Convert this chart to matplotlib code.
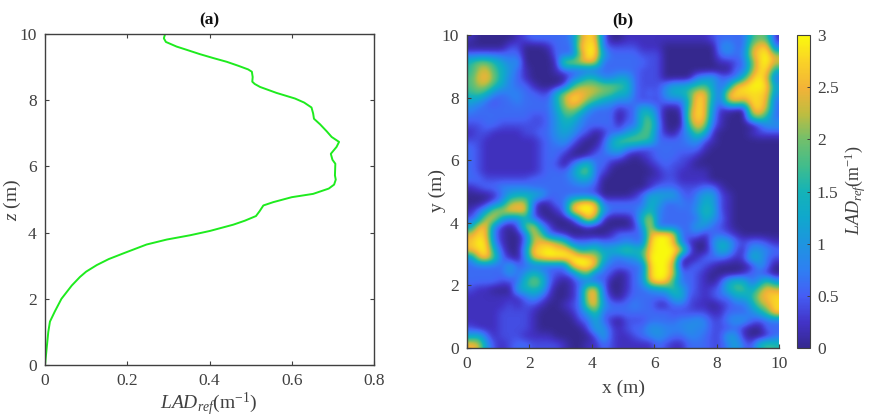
import numpy as np
import matplotlib
matplotlib.use('Agg')
import matplotlib.pyplot as plt
from matplotlib.colors import LinearSegmentedColormap

plt.rcParams['font.family'] = ['Liberation Serif', 'DejaVu Serif']
plt.rcParams['mathtext.fontset'] = 'custom'
plt.rcParams['mathtext.rm'] = 'Liberation Serif'
plt.rcParams['mathtext.it'] = 'Liberation Serif:italic'
plt.rcParams['mathtext.bf'] = 'Liberation Serif:bold'

TXT = '#404040'
W, H = 875, 418

# вертикальный профиль
lad_profile = [0.292, 0.289, 0.294, 0.32, 0.345, 0.377, 0.41, 0.442, 0.47, 0.494, 0.503, 0.505, 0.504, 0.51,
               0.523, 0.563, 0.608, 0.63, 0.648, 0.652, 0.654, 0.669, 0.685, 0.697, 0.715, 0.709, 0.695,
               0.699, 0.706, 0.705, 0.707, 0.703, 0.69, 0.652, 0.6, 0.555, 0.531, 0.522, 0.513, 0.486,
               0.458, 0.401, 0.353, 0.296, 0.247, 0.19, 0.155, 0.126, 0.1, 0.085, 0.065, 0.04, 0.024,
               0.012, 0.008, 0.004, 0.0]
z_profile = [10.0, 9.87, 9.76, 9.62, 9.52, 9.39, 9.27, 9.16, 9.04, 8.93, 8.86, 8.7, 8.56, 8.49,
             8.40, 8.22, 8.05, 7.93, 7.78, 7.6, 7.44, 7.27, 7.06, 6.89, 6.74, 6.59, 6.38,
             6.2, 6.08, 5.73, 5.6, 5.45, 5.33, 5.17, 5.07, 4.92, 4.82, 4.65, 4.5, 4.36,
             4.24, 4.05, 3.92, 3.79, 3.64, 3.37, 3.2, 3.02, 2.82, 2.66, 2.4, 2.0, 1.62,
             1.31, 1.0, 0.5, 0.0]

# карта LAD: один символ на ячейку 0.25 м, hex/5 = м^-1, строки сверху вниз
lad_rows = [
    '1000001 2333334 bed 3 00 11 111111111 233 33 8a9 1',
    '000002 2 000 1 333 def 3 22 22111 0000000 45 33 bde 3',
    '3333333 0000 333 afe 6 3333 222 0000000 34 34 cef b',
    '8aa8645 0000 1 bbcdc 3 33333 22 0000000 11 2 3 9 efc',
    '8bc9753 1 000 1 33333 33333 222 0000000 00 33 aee7',
    '9cda743 1000 00 358744663 222 0000 456 33 3 8dfc3',
    '9bb8643 3 10 00 2 8bbbaa98 3 222 46678963 5 deffe6',
    '8974344 3322 7 bddcba9 77 3232 577 9dd73 deeeed5',
    '6532334 3333 7 beda865 44 3222 333 8ed63 bdbeec3',
    '43333333 333 6ab95333 123763 001 aed5 1100 deb3',
    '33333333 223 58853333 023893 000 bed4 1000 9b73',
    '22332222 223 57643333 1338a4 000 9db3 1000 0255',
    '12211112 233 56532013 357993 103 5a71 00001222',
    '22111111 123 45310026 9aa983 333 4521 00000000',
    '32111111 123 33100136 743223 333 3310 00000000',
    '32111111 123 31001333 310123 332 2100 00000000',
    '32111111 123 20368331 000012 322 1000 00000000',
    '32111111 123 3359a320 000001 221 1110 00000000',
    '33222222 333 33466300 000011 221 1110 00000000',
    '12334444 333 33333200 000013 332 2233 10000000',
    '00013677 763 33333200 001366 663 2466 21000000',
    '00135bcc 301 33befd33 333376 334 3476 21000000',
    '136bcddd 200 13dffe63 333584 333 3587 21000000',
    '25cc6447 310 0017ea10 0028c4 333 3375 31000000',
    '6dd4102a d52 00001000 0015d3 333 3653 21000000',
    'ced31003 ca3 21000001 3333cf fd3 3313 32100000',
    'dfe41003 bdd b9333433 3433ef fd4 1004 76323321',
    'def72005 eef eec78967 8a88ef ffd 3003 76215543',
    '4ce93104 cef ffffec84 3458ff fe1 0133 32127632',
    '33333633 333 33dffd43 3333ef fb0 2321 00001530',
    '33333535 863 2238a332 0134ef fc3 3210 00013310',
    '33332238 a93 10133330 0134df e83 3210 26873595',
    '21100067 872 0013cd30 013345 696 3212 37996adc',
    '11111113 531 0013cd41 023333 367 2212 33668cde',
    '11111212 210 0123bd53 334331 133 2110 12336ace',
    '11112222 100 00135933 333333 322 2221 1333469e',
    '11112222 100 00023631 022233 334 4542 24553233',
    '21112222 100 00002652 123355 444 5442 22310033',
    '67312221 111 00000262 112345 433 4432 26510013',
    'dc521233 222 21001132 111113 211 3332 24632798',
]
lad_map = np.array([[int(c, 16) / 5 for c in r.replace(' ', '')] for r in lad_rows])

x_ticks = [0, 2, 4, 6, 8, 10]
lad_ticks = [0, 0.2, 0.4, 0.6, 0.8]
cb_ticks = [0, 0.5, 1, 1.5, 2, 2.5, 3]
cb_labels = ['0', '0.5', '1', '1.5', '2', '2.5', '3']

parula = LinearSegmentedColormap.from_list('parula', [
    (0.0, (.21, .16, .56)), (.08, (.26, .20, .78)), (.167, (.27, .37, .96)), (.25, (.18, .50, .95)),
    (.33, (.12, .58, .88)), (.42, (.06, .66, .80)), (.5, (.08, .70, .72)), (.58, (.25, .74, .55)),
    (.667, (.45, .75, .42)), (.75, (.75, .74, .25)), (.83, (.95, .70, .22)), (.92, (.98, .83, .15)),
    (1.0, (.98, .98, .05))])


def px_axes(fig, left, top, right, bottom):
    return fig.add_axes([left / W, 1 - bottom / H, (right - left) / W, (bottom - top) / H])


def style_axes(ax):
    for s in ax.spines.values():
        s.set_color(TXT)
        s.set_linewidth(1.0)
    ax.tick_params(direction='in', length=3, width=0.8, color=TXT, labelcolor=TXT, labelsize=12.5, pad=6)


fig = plt.figure(figsize=(W / 100, H / 100), dpi=100)

# (a) профиль
ax1 = px_axes(fig, 45, 34, 374, 365)
ax1.plot(lad_profile, z_profile, color='#1EEB1E', lw=1.4)
ax1.set_xlim(0, 0.8)
ax1.set_ylim(0, 10)
ax1.set_xticks(lad_ticks)
ax1.set_xticklabels(['0', '0.2', '0.4', '0.6', '0.8'])
ax1.set_yticks(x_ticks)
style_axes(ax1)
ax1.tick_params(top=True, right=True)
fig.text(209 / W, 1 - 20 / H, '(a)', ha='center', va='center', fontsize=12.5, fontweight='bold', color='#111111')
fig.text(209 / W, 1 - 404 / H, r'$\mathit{LAD}_{\mathit{ref}}$(m$^{-1}$)', ha='center', va='center',
         fontsize=14, color=TXT)
fig.text(12 / W, 1 - 200 / H, r'$\mathit{z}$ (m)', ha='center', va='center', rotation=90, fontsize=14, color=TXT)

# (b) карта
ax2 = px_axes(fig, 467, 35, 779, 348)
im = ax2.imshow(lad_map, extent=[0, 10, 0, 10], origin='upper', cmap=parula, vmin=0, vmax=3,
                interpolation='bicubic', aspect='auto')
ax2.set_xticks(x_ticks)
ax2.set_yticks(x_ticks)
style_axes(ax2)
ax2.spines['top'].set_visible(False)
ax2.spines['right'].set_visible(False)
fig.text(623 / W, 1 - 20 / H, '(b)', ha='center', va='center', fontsize=12.5, fontweight='bold', color='#111111')
fig.text(623 / W, 1 - 388 / H, 'x (m)', ha='center', va='center', fontsize=14, color=TXT)
fig.text(437 / W, 1 - 191 / H, 'y (m)', ha='center', va='center', rotation=90, fontsize=14, color=TXT)

# цветовая шкала
cax = px_axes(fig, 797, 35, 810, 348)
cb = fig.colorbar(im, cax=cax, ticks=cb_ticks)
cb.ax.set_yticklabels(cb_labels)
cb.outline.set_edgecolor(TXT)
cb.outline.set_linewidth(0.8)
cb.ax.tick_params(direction='in', length=2, width=0.7, color=TXT, labelcolor=TXT, labelsize=12.5, pad=5)
fig.text(855 / W, 1 - 190 / H, r'$\mathit{LAD}_{\mathit{ref}}$(m$^{-1}$)', ha='center', va='center', rotation=90,
         fontsize=13, color=TXT)

fig.savefig('out.png', dpi=100)
